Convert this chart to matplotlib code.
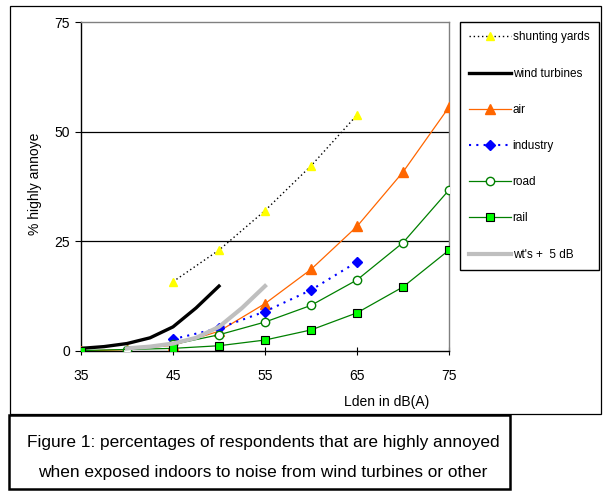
import matplotlib
matplotlib.use("Agg")
import matplotlib.pyplot as plt
from matplotlib import font_manager
from matplotlib.patches import Rectangle

plt.rcParams['font.family'] = ['Liberation Sans', 'DejaVu Sans']

W, H = 616, 501

# data (Lden in dB(A) -> % highly annoyed)
shunt_x = [45, 50, 55, 60, 65]
shunt_y = [15.8, 23.0, 32.0, 42.2, 53.8]

wind_x = [35, 37.5, 40, 42.5, 45, 47.5, 50]
wind_y = [0.6, 1.0, 1.7, 3.0, 5.5, 9.8, 14.8]

air_x = [35, 40, 45, 50, 55, 60, 65, 70, 75]
air_y = [0.0, 0.3, 1.3, 4.5, 10.8, 18.6, 28.4, 40.8, 55.6]

ind_x = [45, 50, 55, 60, 65]
ind_y = [2.7, 5.2, 9.0, 13.9, 20.3]

road_x = [40, 45, 50, 55, 60, 65, 70, 75]
road_y = [0.2, 1.5, 3.7, 6.6, 10.4, 16.2, 24.7, 36.7]

rail_x = [35, 45, 50, 55, 60, 65, 70, 75]
rail_y = [0.1, 0.6, 1.2, 2.5, 4.8, 8.7, 14.6, 23.0]

wt5_x = [40, 42.5, 45, 47.5, 50, 52.5, 55]
wt5_y = [0.6, 1.0, 1.7, 3.0, 5.5, 9.8, 14.8]

xticks = [35, 45, 55, 65, 75]
yticks = [0, 25, 50, 75]

caption_lines = ["Figure 1: percentages of respondents that are highly annoyed",
                 "when exposed indoors to noise from wind turbines or other"]


def fx(px):
    return px / W


def fy(py):
    return 1 - py / H


# caption is set in a narrow face in the original
try:
    font_manager.findfont('Liberation Sans Narrow', fallback_to_default=False)
    cap_family, cap_size = 'Liberation Sans Narrow', 15
except Exception:
    cap_family, cap_size = 'Liberation Sans', 12.4

fig = plt.figure(figsize=(W / 100, H / 100), dpi=100)
ax = fig.add_axes([fx(81), fy(351), fx(449) - fx(81), fy(22) - fy(351)])

ax.plot(shunt_x, shunt_y, color='black', ls=(0, (1, 2)), lw=1,
        marker='^', ms=5.5, mfc='yellow', mec='yellow', label='shunting yards', zorder=3)
ax.plot(wind_x, wind_y, color='black', lw=2.4, label='wind turbines', zorder=4)
ax.plot(air_x, air_y, color='#FF6600', lw=0.9, marker='^', ms=7,
        mfc='#FF6600', mec='#FF6600', label='air', zorder=5)
ax.plot(ind_x, ind_y, color='blue', ls=(0, (1, 2.5)), lw=1.5, marker='D', ms=5.5,
        mfc='blue', mec='blue', label='industry', zorder=6)
ax.plot(road_x, road_y, color='#008000', lw=0.9, marker='o', ms=6,
        mfc='white', mec='#008000', label='road', zorder=7)
ax.plot(rail_x, rail_y, color='#008000', lw=0.9, marker='s', ms=6,
        mfc='#00FF00', mec='black', mew=0.8, label='rail', zorder=8)
ax.plot(wt5_x, wt5_y, color='#BFBFBF', lw=3, label="wt's +  5 dB", zorder=9)

ax.set_xlim(35, 75)
ax.set_ylim(0, 75)
ax.set_xticks(xticks)
ax.set_yticks(yticks)
for yv in [25, 50]:
    ax.axhline(yv, color='black', lw=0.9, zorder=1)

for s in ['top', 'right']:
    ax.spines[s].set_color('#808080')
    ax.spines[s].set_linewidth(1)
for s in ['left', 'bottom']:
    ax.spines[s].set_color('black')
    ax.spines[s].set_linewidth(1)
ax.tick_params(axis='x', direction='inout', length=6, pad=10, labelsize=10)
ax.tick_params(axis='y', direction='out', length=4, pad=4, labelsize=10)

fig.text(fx(35), fy(184), '% highly annoye', rotation=90, ha='center', va='center', fontsize=10)
fig.text(fx(387), fy(402), 'Lden in dB(A)', ha='center', va='center', fontsize=10)

fig.legend(loc='upper left', bbox_to_anchor=(fx(460), fy(22)), fontsize=8.5,
           frameon=True, fancybox=False, edgecolor='black', framealpha=1,
           handlelength=3.5, handletextpad=0.15, labelspacing=2.05,
           borderpad=0.8, borderaxespad=0)

# outer chart frame
fig.patches.append(Rectangle((fx(10), fy(414)), fx(601) - fx(10), fy(6) - fy(414),
                             transform=fig.transFigure, fill=False, ec='black', lw=0.9))
# caption box
fig.patches.append(Rectangle((fx(9), fy(489)), fx(510) - fx(9), fy(415) - fy(489),
                             transform=fig.transFigure, fill=True, fc='white', ec='black', lw=1.8))
fig.text(fx(263), fy(447.5), caption_lines[0], ha='center', va='baseline',
         fontsize=cap_size, family=cap_family)
fig.text(fx(263), fy(477.5), caption_lines[1], ha='center', va='baseline',
         fontsize=cap_size, family=cap_family)

fig.savefig('out.png', dpi=100)
